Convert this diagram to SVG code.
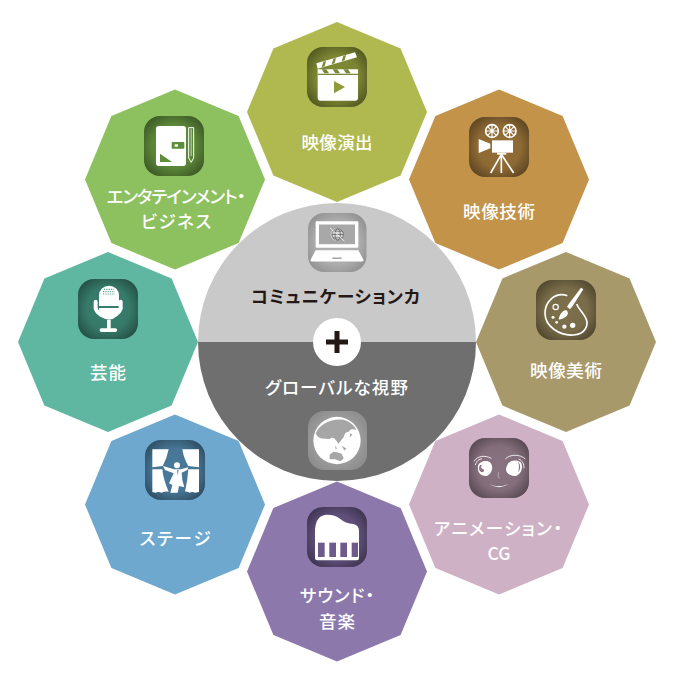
<svg xmlns="http://www.w3.org/2000/svg" width="680" height="692" viewBox="0 0 680 692">
<style>
text{font-family:"Noto Sans CJK JP","Noto Sans",sans-serif;font-size:17.5px;font-weight:500;fill:#fff;text-anchor:middle;font-feature-settings:"palt"}
.w{fill:#fff}.s{fill:none;stroke:#fff}
.c{fill:url(#vig)}
</style>
<defs>
<polygon id="oct" points="0,-90 63.600,-63.600 90,0 63.600,63.600 0,90 -63.600,63.600 -90,0 -63.600,-63.600"/>
<rect id="ib" x="-30" y="-30" width="60" height="60" rx="16"/>
<radialGradient id="vig" cx=".5" cy=".5" r=".66"><stop offset="0" stop-color="#000" stop-opacity=".1"/><stop offset=".55" stop-color="#000" stop-opacity=".14"/><stop offset="1" stop-color="#000" stop-opacity=".5"/></radialGradient>
<radialGradient id="gr1" cx=".5" cy=".5" r=".62"><stop offset="0" stop-color="#b4b4b4"/><stop offset=".6" stop-color="#adadad"/><stop offset="1" stop-color="#8e8e8e"/></radialGradient>
<radialGradient id="gr2" cx=".5" cy=".5" r=".62"><stop offset="0" stop-color="#a0a0a0"/><stop offset=".6" stop-color="#9c9c9c"/><stop offset="1" stop-color="#8a8a8a"/></radialGradient>
</defs>

<g id="node-eizo-enshutsu">
<use href="#oct" x="337" y="112" fill="#b0b94f"/>
<g transform="translate(337 77)"><use href="#ib" fill="#8f9a3a"/><use href="#ib" class="c"/></g>
<g transform="translate(337 77) scale(.3333) translate(-291 -171)">
<path class="w" d="M233 148H354V233Q354 242 345 242H242Q233 242 233 233Z"/>
<path d="M245 148l8 12h14l-8-12zM278 148l8 12h14l-8-12zM310 148l8 12h14l-8-12zM233 161H354V165H233Z" fill="#7d8738"/>
<path class="w" d="M229 130L345 97L351 112L233 146Z"/>
<path d="M245 142l5-17 8-2-4 16zM275 133l5-17 8-2-4 16zM305 124l5-17 8-2-4 16z" fill="#7d8738"/>
<polygon points="282,183 315,201 282,220" fill="#8f9a38"/>
</g>
<text x="337" y="149" textLength="71" lengthAdjust="spacing">映像演出</text>
</g>

<g id="node-eizo-gijutsu">
<use href="#oct" x="499" y="179.500" fill="#c3934a"/>
<g transform="translate(499 147)"><use href="#ib" fill="#a47a3c"/><use href="#ib" class="c"/></g>
<g transform="translate(499 147) scale(.3333) translate(-148 -138)">
<g class="s" stroke-width="5"><circle cx="127" cy="90" r="19"/><circle cx="180" cy="90" r="19"/>
<path stroke-width="3.500" d="M127 72V108M109 90H145M114 77L140 103M140 77L114 103M180 72V108M162 90H198M167 77L193 103M193 77L167 103"/></g>
<rect class="w" x="127" y="118" width="63" height="37"/>
<polygon class="w" points="87,114 122,128 122,142 87,156"/>
<rect class="w" x="142" y="155" width="28" height="6"/>
<path class="s" stroke-width="5" d="M155 160L123 216M155 160V216M155 160L192 216"/>
</g>
<text x="499" y="218" textLength="72" lengthAdjust="spacing">映像技術</text>
</g>

<g id="node-eizo-bijutsu">
<use href="#oct" x="566" y="342" fill="#a8996b"/>
<g transform="translate(566 310)"><use href="#ib" fill="#8c7d54"/><use href="#ib" class="c"/></g>
<g transform="translate(566 310) scale(.3333) translate(-168 -130)">
<path class="s" stroke-width="5" d="M172 87C135 75 105 105 105 140C105 180 150 208 190 205C225 203 240 175 225 150C212 130 205 125 200 112"/>
<circle class="s" stroke-width="3.500" cx="137" cy="121" r="8"/>
<circle class="w" cx="129" cy="152" r="4.500"/><circle class="w" cx="140" cy="167" r="4"/><circle class="w" cx="163" cy="180" r="6.500"/><circle class="w" cx="188" cy="176" r="8"/>
<path class="w" d="M213 63L220 68L188 118L180 128L171 120L178 110Z"/>
<path class="w" d="M170 131C176 138 175 146 165 152C158 157 150 160 146 158C147 150 152 138 160 133C164 130 167 130 170 131Z"/>
</g>
<text x="566" y="377" textLength="72" lengthAdjust="spacing">映像美術</text>
</g>

<g id="node-animation">
<use href="#oct" x="499" y="504.500" fill="#cfb1c6"/>
<g transform="translate(499 468)"><use href="#ib" fill="#9a8090"/><use href="#ib" class="c"/></g>
<g transform="translate(499 468) scale(.3333) translate(-147 -127)">
<path class="w" d="M84 120C90 105 112 102 122 112C130 122 128 142 112 150C98 153 86 145 84 132Z"/>
<path d="M90 118C84 128 88 138 96 140C104 138 104 132 98 130C92 128 92 122 96 118Z" fill="#8a7282"/>
<path class="w" d="M172 118C178 103 200 100 212 110C220 122 216 142 200 150C186 153 170 146 168 132C168 126 170 122 172 118Z"/>
<path d="M204 108C214 118 212 132 204 140C208 128 208 118 204 108Z" fill="#8a7282"/>
<path class="s" stroke-width="2.500" d="M72 107C82 90 105 88 124 98M76 118C80 105 88 100 96 99M166 100C180 85 210 85 226 100M206 100C218 105 222 115 222 128"/>
<path d="M146 140L144 150L148 158" fill="none" stroke="#e8dde4" stroke-width="1.500"/>
<path class="w" d="M117 175Q146 188 176 175Q148 194 117 175Z"/>
</g>
<text x="498" y="535" textLength="128" lengthAdjust="spacing">アニメーション・</text>
<text x="499" y="560">CG</text>
</g>

<g id="node-sound">
<use href="#oct" x="337" y="571.500" fill="#8c78aa"/>
<g transform="translate(337 537)"><use href="#ib" fill="#6f5c8e"/><use href="#ib" class="c"/></g>
<g transform="translate(337 537) scale(.3333) translate(-141 -127)">
<path class="w" d="M75 105Q78 60 112 60Q135 60 150 72Q166 86 190 88Q207 92 207 108V190Q207 197 200 197H82Q75 197 75 190Z"/>
<g fill="#6d5b8b"><rect x="84" y="144" width="20" height="43"/><rect x="118" y="144" width="20" height="43"/><rect x="151" y="144" width="20" height="43"/><rect x="185" y="144" width="19" height="43"/></g>
</g>
<text x="337" y="602" textLength="74" lengthAdjust="spacing">サウンド・</text>
<text x="337" y="628" textLength="36" lengthAdjust="spacing">音楽</text>
</g>

<g id="node-stage">
<use href="#oct" x="175" y="504.500" fill="#6ea8cf"/>
<g transform="translate(175 470)"><use href="#ib" fill="#5288ad"/><use href="#ib" class="c"/></g>
<g transform="translate(175 470) scale(.3333) translate(-150 -120)">
<path class="w" d="M82 58H131Q126 85 113 108L82 112ZM82 118H112Q115 150 131 185Q118 183 110 188Q100 184 92 188L82 186ZM172 58H222V112L190 108Q176 85 172 58ZM190 118H222V186L210 188Q202 184 194 188Q186 184 180 185Q188 150 190 118Z"/>
<circle class="w" cx="156" cy="106" r="9"/>
<path class="w" d="M114 108L147 118H168L190 112L187 120L170 128L172 150L178 172L162 168L158 188H136L142 165L132 160L146 130L120 120Z"/>
<path d="M156 120L158 138L161 120Z" fill="#5e96bc"/>
</g>
<text x="175" y="545" textLength="71" lengthAdjust="spacing">ステージ</text>
</g>

<g id="node-geino">
<use href="#oct" x="108" y="342" fill="#5fb7a1"/>
<g transform="translate(108 309)"><use href="#ib" fill="#3f8d7a"/><use href="#ib" class="c"/></g>
<g transform="translate(108 309) scale(.3333) translate(-145 -117)">
<path class="w" d="M118 76A30 29 0 0 1 178 76V108H118ZM118 114H178V120A30 29 0 0 1 118 120Z"/>
<path d="M133 58h30M130 65h36M130 72h36" stroke="#5aa08e" stroke-width="3.500" stroke-dasharray="3.500 3.500" fill="none"/>
<path class="s" stroke-width="12" stroke-linecap="round" d="M108 95V116A40 38 0 0 0 183 116V95"/>
<rect class="w" x="142" y="150" width="11" height="28"/>
<rect class="w" x="120" y="175" width="52" height="11" rx="5"/>
</g>
<text x="108" y="379" textLength="36" lengthAdjust="spacing">芸能</text>
</g>

<g id="node-entertainment">
<use href="#oct" x="175" y="179.500" fill="#8dc05f"/>
<g transform="translate(174 146)"><use href="#ib" fill="#6a9c42"/><use href="#ib" class="c"/></g>
<g transform="translate(174 146) scale(.3333) translate(-282 -142)">
<path class="w" d="M236 82H310Q318 82 318 90V194Q318 202 310 202H236Q228 202 228 194V90Q228 82 236 82Z"/>
<polygon points="240,165 240,190 276,190" fill="#5e8e3a"/>
<rect x="275" y="130" width="38" height="20" rx="2" fill="#5e8e3a"/>
<rect class="w" x="284" y="137" width="10" height="7"/>
<path class="s" stroke-width="3" d="M326 87H341V178L333.500 191L326 178Z"/>
<path class="s" stroke-width="2" d="M333.500 90V172"/>
</g>
<text x="176" y="203" textLength="139" lengthAdjust="spacing">エンタテインメント・</text>
<text x="176" y="228" textLength="70" lengthAdjust="spacing">ビジネス</text>
</g>

<g id="node-center">
<path d="M198 342A139 139 0 0 1 476 342Z" fill="#c9c9c9"/>
<path d="M198 342A139 139 0 0 0 476 342Z" fill="#6f6f6f"/>
<circle cx="337" cy="342" r="24" fill="#fff"/>
<path d="M334.500 331h5v8.500h8.500v5h-8.500v8.500h-5v-8.500h-8.500v-5h8.500z" fill="#231815"/>
<rect x="308" y="213" width="58.500" height="59" rx="16" fill="url(#gr1)"/>
<g transform="translate(337 242.500) scale(.3333) translate(-426 -127)">
<rect class="w" x="362" y="63" width="128" height="80" rx="3"/>
<rect x="372" y="73" width="108" height="59" fill="#a8a8a8"/>
<circle cx="426" cy="103" r="19" fill="#d6d6d6"/>
<g fill="none" stroke="#555" stroke-width="2"><circle cx="428" cy="103" r="17"/><ellipse cx="428" cy="103" rx="8" ry="17"/><path d="M411 103H445M414 93H442M414 113H442"/></g>
<path class="s" stroke-width="2" d="M405 83L448 123"/>
<path class="w" d="M362 150H490L505 178Q507 184 500 184H352Q345 184 347 178Z"/>
<rect x="412" y="172" width="28" height="4" fill="#999"/>
</g>
<text x="335.500" y="303" style="fill:#231815;font-weight:600" textLength="169" lengthAdjust="spacing">コミュニケーションカ</text>
<text x="336.500" y="394" textLength="143" lengthAdjust="spacing">グローバルな視野</text>
<rect x="308" y="411" width="59" height="59" rx="16" fill="url(#gr2)"/>
<g transform="translate(337 440.500) scale(.3333) translate(-426 -722)">
<circle class="w" cx="426" cy="722" r="71"/>
<path d="M362 700C375 672 410 655 445 660C465 666 480 678 484 692C474 686 464 688 462 696C454 694 448 702 446 712C440 718 436 726 430 732C424 722 418 712 410 714C400 722 390 714 380 716C372 714 364 708 362 700Z" fill="#a6a6a6"/>
<path d="M404 764L416 756L428 758L440 762L446 776L436 784L420 778L404 778Z" fill="#a6a6a6"/>
<path d="M440 738l14 8-6 6zM420 736l6 10-4 2zM466 700l6 4-8 10z" fill="#a6a6a6"/>
</g>
</g>

<g id="connectors"/>
</svg>
